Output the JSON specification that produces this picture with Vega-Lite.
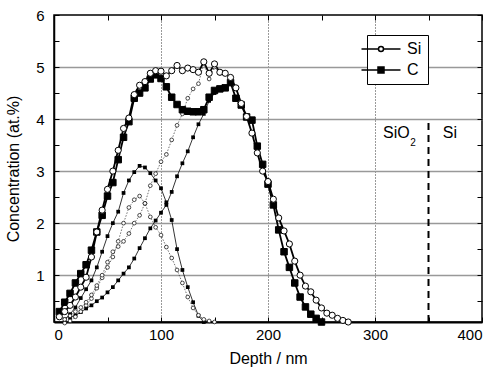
{
  "$schema": "https://vega.github.io/schema/vega-lite/v6.json",
  "width": 428,
  "height": 307,
  "autosize": {"type": "none"},
  "padding": {"left": 54, "top": 15, "right": 12, "bottom": 50},
  "background": "white",
  "config": {
    "font": "Liberation Sans",
    "view": {"stroke": "black", "strokeWidth": 1.5}
  },
  "datasets": {
    "totals": [
      {"series":"Si","depth":5,"conc":0.2},{"series":"Si","depth":10,"conc":0.3},{"series":"Si","depth":15,"conc":0.42},{"series":"Si","depth":20,"conc":0.58},{"series":"Si","depth":25,"conc":0.77},{"series":"Si","depth":30,"conc":0.96},{"series":"Si","depth":35,"conc":1.35},{"series":"Si","depth":40,"conc":1.83},{"series":"Si","depth":45,"conc":2.25},{"series":"Si","depth":50,"conc":2.65},{"series":"Si","depth":55,"conc":3.0},{"series":"Si","depth":60,"conc":3.4},{"series":"Si","depth":65,"conc":3.82},{"series":"Si","depth":70,"conc":4.02},{"series":"Si","depth":75,"conc":4.47},{"series":"Si","depth":80,"conc":4.65},{"series":"Si","depth":85,"conc":4.72},{"series":"Si","depth":90,"conc":4.88},{"series":"Si","depth":95,"conc":4.93},{"series":"Si","depth":100,"conc":4.92},{"series":"Si","depth":105,"conc":4.83},{"series":"Si","depth":110,"conc":4.93},{"series":"Si","depth":115,"conc":5.03},{"series":"Si","depth":120,"conc":4.93},{"series":"Si","depth":125,"conc":4.98},{"series":"Si","depth":130,"conc":4.95},{"series":"Si","depth":135,"conc":4.9},{"series":"Si","depth":140,"conc":5.1},{"series":"Si","depth":145,"conc":4.88},{"series":"Si","depth":150,"conc":5.06},{"series":"Si","depth":155,"conc":4.9},{"series":"Si","depth":160,"conc":4.88},{"series":"Si","depth":165,"conc":4.8},{"series":"Si","depth":170,"conc":4.6},{"series":"Si","depth":175,"conc":4.3},{"series":"Si","depth":180,"conc":4.05},{"series":"Si","depth":185,"conc":3.73},{"series":"Si","depth":190,"conc":3.35},{"series":"Si","depth":195,"conc":3.0},{"series":"Si","depth":200,"conc":2.8},{"series":"Si","depth":205,"conc":2.46},{"series":"Si","depth":210,"conc":2.1},{"series":"Si","depth":215,"conc":1.85},{"series":"Si","depth":220,"conc":1.6},{"series":"Si","depth":225,"conc":1.27},{"series":"Si","depth":230,"conc":1.0},{"series":"Si","depth":235,"conc":0.79},{"series":"Si","depth":240,"conc":0.68},{"series":"Si","depth":245,"conc":0.52},{"series":"Si","depth":250,"conc":0.37},{"series":"Si","depth":255,"conc":0.27},{"series":"Si","depth":260,"conc":0.23},{"series":"Si","depth":265,"conc":0.17},{"series":"Si","depth":270,"conc":0.13},{"series":"Si","depth":275,"conc":0.1},
      {"series":"C","depth":5,"conc":0.3},{"series":"C","depth":10,"conc":0.48},{"series":"C","depth":15,"conc":0.65},{"series":"C","depth":20,"conc":0.85},{"series":"C","depth":25,"conc":1.03},{"series":"C","depth":30,"conc":1.2},{"series":"C","depth":35,"conc":1.48},{"series":"C","depth":40,"conc":1.83},{"series":"C","depth":45,"conc":2.15},{"series":"C","depth":50,"conc":2.52},{"series":"C","depth":55,"conc":2.78},{"series":"C","depth":60,"conc":3.22},{"series":"C","depth":65,"conc":3.65},{"series":"C","depth":70,"conc":3.95},{"series":"C","depth":75,"conc":4.4},{"series":"C","depth":80,"conc":4.5},{"series":"C","depth":85,"conc":4.6},{"series":"C","depth":90,"conc":4.77},{"series":"C","depth":95,"conc":4.85},{"series":"C","depth":100,"conc":4.78},{"series":"C","depth":105,"conc":4.62},{"series":"C","depth":110,"conc":4.42},{"series":"C","depth":115,"conc":4.28},{"series":"C","depth":120,"conc":4.18},{"series":"C","depth":125,"conc":4.15},{"series":"C","depth":130,"conc":4.14},{"series":"C","depth":135,"conc":4.14},{"series":"C","depth":140,"conc":4.18},{"series":"C","depth":145,"conc":4.42},{"series":"C","depth":150,"conc":4.55},{"series":"C","depth":155,"conc":4.58},{"series":"C","depth":160,"conc":4.6},{"series":"C","depth":165,"conc":4.7},{"series":"C","depth":170,"conc":4.4},{"series":"C","depth":175,"conc":4.27},{"series":"C","depth":180,"conc":4.04},{"series":"C","depth":185,"conc":3.98},{"series":"C","depth":190,"conc":3.48},{"series":"C","depth":195,"conc":3.13},{"series":"C","depth":200,"conc":2.75},{"series":"C","depth":205,"conc":2.35},{"series":"C","depth":210,"conc":1.87},{"series":"C","depth":215,"conc":1.45},{"series":"C","depth":220,"conc":1.15},{"series":"C","depth":225,"conc":0.85},{"series":"C","depth":230,"conc":0.58},{"series":"C","depth":235,"conc":0.39},{"series":"C","depth":240,"conc":0.25},{"series":"C","depth":245,"conc":0.17},{"series":"C","depth":250,"conc":0.1}
    ],
    "comps": [
      {"series":"C","comp":"1","depth":10,"conc":0.15},{"series":"C","comp":"1","depth":15,"conc":0.25},{"series":"C","comp":"1","depth":20,"conc":0.38},{"series":"C","comp":"1","depth":25,"conc":0.56},{"series":"C","comp":"1","depth":30,"conc":0.73},{"series":"C","comp":"1","depth":35,"conc":0.9},{"series":"C","comp":"1","depth":40,"conc":1.15},{"series":"C","comp":"1","depth":45,"conc":1.45},{"series":"C","comp":"1","depth":50,"conc":1.75},{"series":"C","comp":"1","depth":55,"conc":2.0},{"series":"C","comp":"1","depth":60,"conc":2.22},{"series":"C","comp":"1","depth":65,"conc":2.58},{"series":"C","comp":"1","depth":70,"conc":2.82},{"series":"C","comp":"1","depth":75,"conc":2.98},{"series":"C","comp":"1","depth":80,"conc":3.1},{"series":"C","comp":"1","depth":85,"conc":3.07},{"series":"C","comp":"1","depth":90,"conc":2.96},{"series":"C","comp":"1","depth":95,"conc":2.82},{"series":"C","comp":"1","depth":100,"conc":2.67},{"series":"C","comp":"1","depth":105,"conc":2.4},{"series":"C","comp":"1","depth":110,"conc":2.06},{"series":"C","comp":"1","depth":115,"conc":1.5},{"series":"C","comp":"1","depth":120,"conc":1.1},{"series":"C","comp":"1","depth":125,"conc":0.77},{"series":"C","comp":"1","depth":130,"conc":0.48},{"series":"C","comp":"1","depth":135,"conc":0.22},{"series":"C","comp":"1","depth":140,"conc":0.1},
      {"series":"C","comp":"2","depth":15,"conc":0.18},{"series":"C","comp":"2","depth":20,"conc":0.23},{"series":"C","comp":"2","depth":25,"conc":0.29},{"series":"C","comp":"2","depth":30,"conc":0.36},{"series":"C","comp":"2","depth":35,"conc":0.42},{"series":"C","comp":"2","depth":40,"conc":0.5},{"series":"C","comp":"2","depth":45,"conc":0.57},{"series":"C","comp":"2","depth":50,"conc":0.67},{"series":"C","comp":"2","depth":55,"conc":0.77},{"series":"C","comp":"2","depth":60,"conc":0.9},{"series":"C","comp":"2","depth":65,"conc":1.03},{"series":"C","comp":"2","depth":70,"conc":1.15},{"series":"C","comp":"2","depth":75,"conc":1.32},{"series":"C","comp":"2","depth":80,"conc":1.52},{"series":"C","comp":"2","depth":85,"conc":1.71},{"series":"C","comp":"2","depth":90,"conc":1.9},{"series":"C","comp":"2","depth":95,"conc":2.05},{"series":"C","comp":"2","depth":100,"conc":2.2},{"series":"C","comp":"2","depth":105,"conc":2.35},{"series":"C","comp":"2","depth":110,"conc":2.6},{"series":"C","comp":"2","depth":115,"conc":2.9},{"series":"C","comp":"2","depth":120,"conc":3.15},{"series":"C","comp":"2","depth":125,"conc":3.38},{"series":"C","comp":"2","depth":130,"conc":3.65},{"series":"C","comp":"2","depth":135,"conc":3.9},{"series":"C","comp":"2","depth":140,"conc":4.1},{"series":"C","comp":"2","depth":145,"conc":4.35},{"series":"C","comp":"2","depth":150,"conc":4.5},{"series":"C","comp":"2","depth":155,"conc":4.58},{"series":"C","comp":"2","depth":160,"conc":4.6},{"series":"C","comp":"2","depth":165,"conc":4.68},
      {"series":"Si","comp":"1","depth":10,"conc":0.08},{"series":"Si","comp":"1","depth":15,"conc":0.12},{"series":"Si","comp":"1","depth":20,"conc":0.2},{"series":"Si","comp":"1","depth":25,"conc":0.3},{"series":"Si","comp":"1","depth":30,"conc":0.42},{"series":"Si","comp":"1","depth":35,"conc":0.55},{"series":"Si","comp":"1","depth":40,"conc":0.75},{"series":"Si","comp":"1","depth":45,"conc":0.95},{"series":"Si","comp":"1","depth":50,"conc":1.15},{"series":"Si","comp":"1","depth":55,"conc":1.35},{"series":"Si","comp":"1","depth":60,"conc":1.65},{"series":"Si","comp":"1","depth":65,"conc":2.0},{"series":"Si","comp":"1","depth":70,"conc":2.3},{"series":"Si","comp":"1","depth":75,"conc":2.45},{"series":"Si","comp":"1","depth":80,"conc":2.52},{"series":"Si","comp":"1","depth":85,"conc":2.38},{"series":"Si","comp":"1","depth":90,"conc":2.12},{"series":"Si","comp":"1","depth":95,"conc":1.92},{"series":"Si","comp":"1","depth":100,"conc":1.77},{"series":"Si","comp":"1","depth":105,"conc":1.54},{"series":"Si","comp":"1","depth":110,"conc":1.33},{"series":"Si","comp":"1","depth":115,"conc":1.1},{"series":"Si","comp":"1","depth":120,"conc":0.85},{"series":"Si","comp":"1","depth":125,"conc":0.58},{"series":"Si","comp":"1","depth":130,"conc":0.37},{"series":"Si","comp":"1","depth":135,"conc":0.23},{"series":"Si","comp":"1","depth":140,"conc":0.15},{"series":"Si","comp":"1","depth":145,"conc":0.12},{"series":"Si","comp":"1","depth":150,"conc":0.1},
      {"series":"Si","comp":"2","depth":10,"conc":0.15},{"series":"Si","comp":"2","depth":15,"conc":0.22},{"series":"Si","comp":"2","depth":20,"conc":0.3},{"series":"Si","comp":"2","depth":25,"conc":0.38},{"series":"Si","comp":"2","depth":30,"conc":0.48},{"series":"Si","comp":"2","depth":35,"conc":0.62},{"series":"Si","comp":"2","depth":40,"conc":0.8},{"series":"Si","comp":"2","depth":45,"conc":1.0},{"series":"Si","comp":"2","depth":50,"conc":1.25},{"series":"Si","comp":"2","depth":55,"conc":1.45},{"series":"Si","comp":"2","depth":60,"conc":1.55},{"series":"Si","comp":"2","depth":65,"conc":1.65},{"series":"Si","comp":"2","depth":70,"conc":1.8},{"series":"Si","comp":"2","depth":75,"conc":2.0},{"series":"Si","comp":"2","depth":80,"conc":2.15},{"series":"Si","comp":"2","depth":85,"conc":2.38},{"series":"Si","comp":"2","depth":90,"conc":2.72},{"series":"Si","comp":"2","depth":95,"conc":2.95},{"series":"Si","comp":"2","depth":100,"conc":3.18},{"series":"Si","comp":"2","depth":105,"conc":3.32},{"series":"Si","comp":"2","depth":110,"conc":3.6},{"series":"Si","comp":"2","depth":115,"conc":3.88},{"series":"Si","comp":"2","depth":120,"conc":4.1},{"series":"Si","comp":"2","depth":125,"conc":4.4},{"series":"Si","comp":"2","depth":130,"conc":4.58},{"series":"Si","comp":"2","depth":135,"conc":4.68},{"series":"Si","comp":"2","depth":140,"conc":5.08},{"series":"Si","comp":"2","depth":145,"conc":4.77},{"series":"Si","comp":"2","depth":150,"conc":5.0},{"series":"Si","comp":"2","depth":155,"conc":4.88},{"series":"Si","comp":"2","depth":160,"conc":4.87},{"series":"Si","comp":"2","depth":165,"conc":4.8}
    ]
  },
  "resolve": {"axis": {"x": "independent", "y": "independent"}},
  "layer": [
    {
      "data": {"name": "totals"},
      "mark": {"type": "line", "stroke": "black", "strokeWidth": 1.8},
      "encoding": {
        "x": {"field": "depth", "type": "quantitative", "scale": {"domain": [0, 400], "nice": false, "zero": false},
          "axis": {"values": [0,50,100,150,200,250,300,350,400], "labelExpr": "datum.value % 100 === 0 ? format(datum.value, 'd') : ''",
            "title": "Depth / nm", "grid": true, "gridColor": "black", "gridDash": [1, 2], "gridWidth": 0.8,
            "gridOpacity": {"condition": {"test": "datum.value % 100 === 0 && datum.value > 0 && datum.value < 400", "value": 1}, "value": 0},
            "tickSize": -5, "tickColor": "black", "domainColor": "black", "domainWidth": 2, "labelPadding": 10,
            "labelFontSize": 15, "labelColor": "black", "titleFontSize": 16, "titleFontWeight": "normal", "titleColor": "black", "titlePadding": 8}},
        "y": {"field": "conc", "type": "quantitative", "scale": {"domain": [0.1, 6], "nice": false, "zero": false},
          "axis": {"values": [0.5,1,1.5,2,2.5,3,3.5,4,4.5,5,5.5,6], "labelExpr": "datum.value % 1 === 0 ? format(datum.value, 'd') : ''",
            "title": "Concentration  (at.%)", "grid": true, "gridColor": "#999999", "gridWidth": 1.5,
            "gridOpacity": {"condition": {"test": "datum.value % 1 === 0 && datum.value < 6", "value": 1}, "value": 0},
            "tickSize": -5, "tickColor": "black", "domainColor": "black", "domainWidth": 1.5, "labelPadding": 15,
            "labelFontSize": 15, "labelColor": "black", "titleFontSize": 16, "titleFontWeight": "normal", "titleColor": "black", "titlePadding": 14}},
        "detail": {"field": "series"}
      }
    },
    {
      "data": {"name": "comps"},
      "transform": [{"filter": "datum.series === 'C'"}],
      "mark": {"type": "line", "stroke": "black", "strokeWidth": 0.8},
      "encoding": {
        "x": {"field": "depth", "type": "quantitative", "axis": null},
        "y": {"field": "conc", "type": "quantitative", "axis": null},
        "detail": {"field": "comp"}
      }
    },
    {
      "data": {"name": "comps"},
      "transform": [{"filter": "datum.series === 'Si'"}],
      "mark": {"type": "line", "stroke": "#333333", "strokeWidth": 0.7, "strokeDash": [1.5, 1.5]},
      "encoding": {
        "x": {"field": "depth", "type": "quantitative", "axis": null},
        "y": {"field": "conc", "type": "quantitative", "axis": null},
        "detail": {"field": "comp"}
      }
    },
    {
      "data": {"name": "comps"},
      "transform": [{"filter": "datum.series === 'C'"}],
      "mark": {"type": "square", "color": "black", "size": 14, "opacity": 1},
      "encoding": {
        "x": {"field": "depth", "type": "quantitative", "axis": null},
        "y": {"field": "conc", "type": "quantitative", "axis": null}
      }
    },
    {
      "data": {"name": "comps"},
      "transform": [{"filter": "datum.series === 'Si'"}],
      "mark": {"type": "point", "shape": "circle", "fill": "white", "filled": true, "stroke": "black", "strokeWidth": 0.7, "size": 14, "opacity": 1},
      "encoding": {
        "x": {"field": "depth", "type": "quantitative", "axis": null},
        "y": {"field": "conc", "type": "quantitative", "axis": null}
      }
    },
    {
      "data": {"name": "totals"},
      "transform": [{"filter": "datum.series === 'C'"}],
      "mark": {"type": "point", "shape": "square", "filled": true, "fill": "black", "stroke": "black", "strokeWidth": 1, "size": 42, "opacity": 1},
      "encoding": {
        "x": {"field": "depth", "type": "quantitative", "axis": null},
        "y": {"field": "conc", "type": "quantitative", "axis": null}
      }
    },
    {
      "data": {"name": "totals"},
      "transform": [{"filter": "datum.series === 'Si'"}],
      "mark": {"type": "point", "shape": "circle", "filled": true, "fill": "white", "stroke": "black", "strokeWidth": 1, "size": 38, "opacity": 1},
      "encoding": {
        "x": {"field": "depth", "type": "quantitative", "axis": null},
        "y": {"field": "conc", "type": "quantitative", "axis": null}
      }
    },
    {
      "data": {"name": "totals"},
      "transform": [{"filter": "datum.depth < 0"}],
      "mark": {"type": "point", "size": 100, "strokeWidth": 1.5, "opacity": 1},
      "encoding": {
        "x": {"field": "depth", "type": "quantitative", "axis": null},
        "y": {"field": "conc", "type": "quantitative", "axis": null},
        "shape": {"field": "series", "type": "nominal",
          "scale": {"domain": ["Si", "C"], "range": ["M-3.9,0H-0.55M0.55,0H3.9M-0.5,0A0.5,0.5,0,1,0,0.5,0A0.5,0.5,0,1,0,-0.5,0Z", "M-3.9,0H3.9M-0.6,-0.6H0.6V0.6H-0.6Z"]},
          "legend": {"orient": "none", "legendX": 313, "legendY": 20, "title": null, "strokeColor": "black", "fillColor": "white",
            "padding": 6, "labelFontSize": 16, "labelColor": "black", "labelOffset": 18, "symbolSize": 100, "rowPadding": 5,
            "symbolOpacity": 1, "symbolStrokeWidth": 1.5}},
        "fill": {"field": "series", "type": "nominal", "scale": {"domain": ["Si", "C"], "range": ["white", "black"]},
          "legend": {"orient": "none", "legendX": 313, "legendY": 20, "title": null, "strokeColor": "black", "fillColor": "white",
            "padding": 6, "labelFontSize": 16, "labelColor": "black", "labelOffset": 18, "symbolSize": 100, "rowPadding": 5,
            "symbolOpacity": 1, "symbolStrokeWidth": 1.5}},
        "stroke": {"field": "series", "type": "nominal", "scale": {"domain": ["Si", "C"], "range": ["black", "black"]},
          "legend": {"orient": "none", "legendX": 313, "legendY": 20, "title": null, "strokeColor": "black", "fillColor": "white",
            "padding": 6, "labelFontSize": 16, "labelColor": "black", "labelOffset": 18, "symbolSize": 100, "rowPadding": 5,
            "symbolOpacity": 1, "symbolStrokeWidth": 1.5}}
      }
    },
    {
      "data": {"values": [{"depth": 350, "conc": 0.1, "conc2": 4.0}]},
      "mark": {"type": "rule", "stroke": "black", "strokeWidth": 2, "strokeDash": [7, 5]},
      "encoding": {
        "x": {"field": "depth", "type": "quantitative",
          "axis": {"orient": "top", "values": [0,50,100,150,200,250,300,350,400], "labels": false, "title": null, "grid": false, "domain": false, "tickSize": -5, "tickColor": "black"}},
        "y": {"field": "conc", "type": "quantitative",
          "axis": {"orient": "right", "values": [0.5,1,1.5,2,2.5,3,3.5,4,4.5,5,5.5,6], "labels": false, "title": null, "grid": false, "domain": false, "tickSize": -5, "tickColor": "black"}},
        "y2": {"field": "conc2"}
      }
    },
    {
      "data": {"values": [{"depth": 320, "conc": 3.73, "label": "SiO"}, {"depth": 370, "conc": 3.73, "label": "Si"}]},
      "mark": {"type": "text", "fontSize": 16, "color": "black", "align": "center", "baseline": "middle"},
      "encoding": {
        "x": {"field": "depth", "type": "quantitative", "axis": null},
        "y": {"field": "conc", "type": "quantitative", "axis": null},
        "text": {"field": "label"}
      }
    },
    {
      "data": {"values": [{"depth": 335.5, "conc": 3.54, "label": "2"}]},
      "mark": {"type": "text", "fontSize": 10, "color": "black", "align": "center", "baseline": "middle"},
      "encoding": {
        "x": {"field": "depth", "type": "quantitative", "axis": null},
        "y": {"field": "conc", "type": "quantitative", "axis": null},
        "text": {"field": "label"}
      }
    }
  ]
}
